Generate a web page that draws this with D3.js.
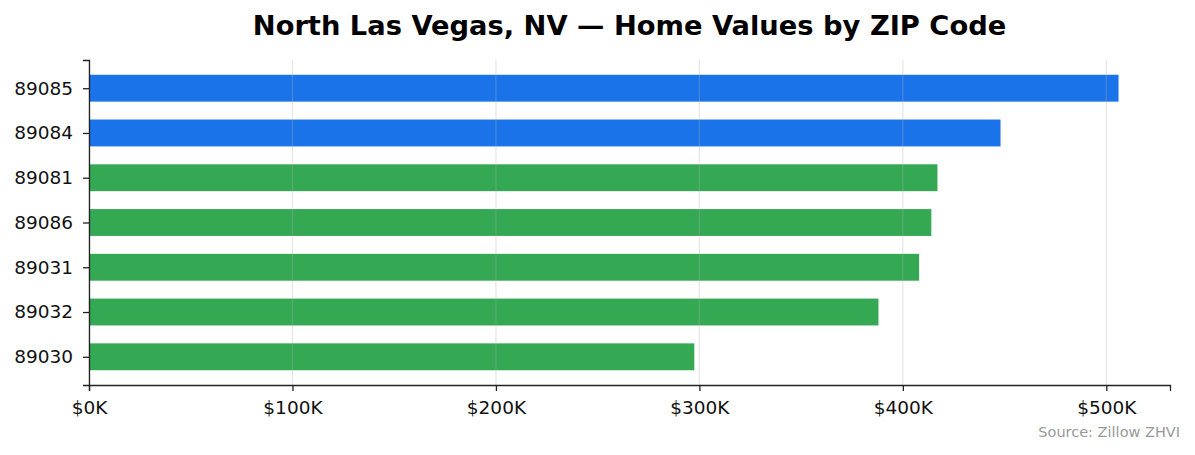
<!DOCTYPE html>
<html>
<head>
<meta charset="utf-8">
<script src="https://cdn.jsdelivr.net/npm/d3@7"></script>
<style>
  body { margin: 0; background: #fff; }
  svg { font-family: "DejaVu Sans", sans-serif; }
</style>
</head>
<body>
<div id="chart"></div>
<script>
// values, in $K
const zips = ["89085", "89084", "89081", "89086", "89031", "89032", "89030"];
const values = [506, 448, 417, 414, 408, 388, 297.5];
const highlight = ["89085", "89084"];
const xTicks = [0, 100, 200, 300, 400, 500];

const width = 1195, height = 455;
const margin = { top: 60, right: 25, bottom: 70, left: 89 };
const colours = { top: "#1a73e8", rest: "#34a853" };

const svg = d3.select("#chart")
    .append("svg")
    .attr("width", width)
    .attr("height", height);

const xScale = d3.scaleLinear()
    .domain([0, d3.max(values) * 1.05])
    .range([margin.left, width - margin.right]);

const n = zips.length;
const pad = (n - 1 + 0.6) * 0.05;
const yScale = d3.scaleLinear()
    .domain([-0.3 - pad, n - 1 + 0.3 + pad])
    .range([margin.top, height - margin.bottom]);

const barH = yScale(0.6) - yScale(0);

svg.append("g")
    .selectAll("rect")
    .data(zips)
    .join("rect")
    .attr("x", xScale(0))
    .attr("y", (d, i) => yScale(i - 0.3))
    .attr("width", (d, i) => xScale(values[i]) - xScale(0))
    .attr("height", barH)
    .attr("fill", d => highlight.includes(d) ? colours.top : colours.rest);

// grid over the bars, as in the reference
svg.append("g")
    .selectAll("line")
    .data(xTicks)
    .join("line")
    .attr("x1", d => xScale(d))
    .attr("x2", d => xScale(d))
    .attr("y1", margin.top)
    .attr("y2", height - margin.bottom)
    .attr("stroke", "#b0b0b0")
    .attr("stroke-opacity", 0.3)
    .attr("stroke-width", 1.3);

const xAxis = d3.axisBottom(xScale)
    .tickValues(xTicks)
    .tickFormat(d => "$" + d + "K")
    .tickSizeOuter(0)
    .tickSize(6)
    .tickPadding(10);

const yAxis = d3.axisLeft(yScale)
    .tickValues(d3.range(n))
    .tickFormat(i => zips[i])
    .tickSizeOuter(0)
    .tickSize(6)
    .tickPadding(10);

const gx = svg.append("g")
    .attr("transform", "translate(0," + (height - margin.bottom) + ")")
    .call(xAxis);

const gy = svg.append("g")
    .attr("transform", "translate(" + margin.left + ",0)")
    .call(yAxis);

[gx, gy].forEach(g => {
    g.select(".domain").attr("stroke", "#222").attr("stroke-width", 1.3);
    g.selectAll(".tick line").attr("stroke", "#222").attr("stroke-width", 1.3);
    g.selectAll(".tick text")
        .attr("fill", "#111")
        .style("font-size", "18.5px")
        .style("font-family", "DejaVu Sans, sans-serif");
});

svg.append("text")
    .attr("x", (margin.left + width - margin.right) / 2)
    .attr("y", 35)
    .attr("text-anchor", "middle")
    .style("font-size", "27.3px")
    .style("font-weight", "bold")
    .attr("fill", "#000")
    .text("North Las Vegas, NV — Home Values by ZIP Code");

svg.append("text")
    .attr("x", 1180)
    .attr("y", 437)
    .attr("text-anchor", "end")
    .style("font-size", "14.5px")
    .attr("fill", "#999")
    .text("Source: Zillow ZHVI");
</script>
</body>
</html>
